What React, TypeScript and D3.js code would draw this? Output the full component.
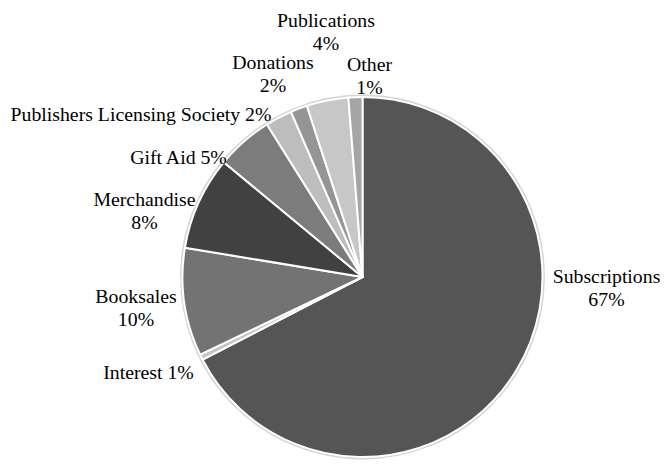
import React from "react";
import * as d3 from "d3";

const categories = [
  "Subscriptions",
  "Interest",
  "Booksales",
  "Merchandise",
  "Gift Aid",
  "Publishers Licensing Society",
  "Donations",
  "Publications",
  "Other",
];
const shares = [67.4, 0.5, 9.7, 8.4, 5.1, 2.4, 1.5, 3.75, 1.25];
const sliceColors = [
  "#555555",
  "#c4c4c4",
  "#737373",
  "#414141",
  "#7c7c7c",
  "#bdbdbd",
  "#959595",
  "#c7c7c7",
  "#a5a5a5",
];
// label layout: [x center, y center of first line, two lines?]
const labelLayout: Record<string, { x: number; y: number; split: boolean }> = {
  Subscriptions: { x: 606.5, y: 276, split: true },
  Interest: { x: 148.5, y: 372, split: false },
  Booksales: { x: 136, y: 296, split: true },
  Merchandise: { x: 144.5, y: 199, split: true },
  "Gift Aid": { x: 178.5, y: 157, split: false },
  "Publishers Licensing Society": { x: 141, y: 114, split: false },
  Donations: { x: 273, y: 62, split: true },
  Publications: { x: 326, y: 20, split: true },
  Other: { x: 369.5, y: 64, split: true },
};

const W = 664;
const H = 466;
const CX = 362.5;
const CY = 277;
const R = 180;
const FS = 19.8;
const LH = 23.5;

export default function App() {
  const data = categories.map((c, i) => ({ name: c, value: shares[i], color: sliceColors[i] }));
  const pie = d3
    .pie<{ name: string; value: number; color: string }>()
    .sort(null)
    .value((d) => d.value)
    .startAngle(0)
    .endAngle(2 * Math.PI);
  const arcs = pie(data);
  const arc = d3
    .arc<d3.PieArcDatum<{ name: string; value: number; color: string }>>()
    .innerRadius(0)
    .outerRadius(R);

  return (
    <div style={{ position: "fixed", left: 0, top: 0, width: W, height: H, background: "#fff" }}>
      <svg width={W} height={H} style={{ display: "block" }}>
        <rect width={W} height={H} fill="#ffffff" />
        <g transform={`translate(${CX},${CY})`}>
          <circle r={R + 1.2} fill="none" stroke="#d4d4d4" strokeWidth={2.4} />
          {arcs.map((a, i) => (
            <path
              key={i}
              d={arc(a) || ""}
              fill={a.data.color}
              stroke="#ffffff"
              strokeWidth={2}
              strokeLinejoin="round"
            />
          ))}
        </g>
        <g
          fontFamily="'Liberation Serif', 'Times New Roman', serif"
          fontSize={FS}
          fill="#000"
          textAnchor="middle"
        >
          {arcs.map((a, i) => {
            const L = labelLayout[a.data.name];
            const pct = `${Math.round(a.data.value)}%`;
            const base = L.y + FS * 0.34;
            if (L.split) {
              return (
                <text key={i} x={L.x} y={base}>
                  <tspan x={L.x}>{a.data.name}</tspan>
                  <tspan x={L.x} dy={LH}>
                    {pct}
                  </tspan>
                </text>
              );
            }
            return (
              <text key={i} x={L.x} y={base}>
                {`${a.data.name} ${pct}`}
              </text>
            );
          })}
        </g>
      </svg>
    </div>
  );
}
